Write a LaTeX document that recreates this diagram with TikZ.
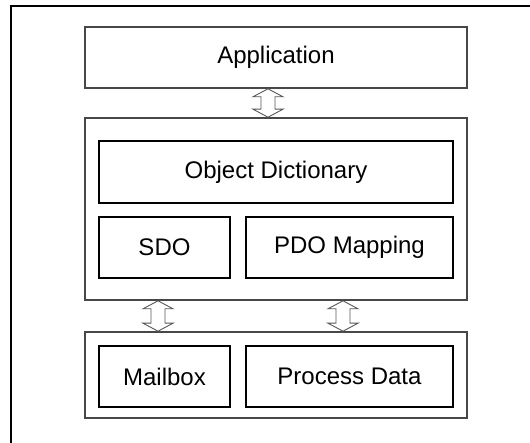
\documentclass[tikz,border=0pt]{standalone}
\usepackage{fontspec}
\setmainfont{Liberation Sans}
\usetikzlibrary{calc}
\newcommand\vdblarrow[2]{%
  \draw[dblarr] (#1) -- ++(15,8) -- ++(-8,0) -- ($(#2)+(7,-8)$) -- ++(8,0) -- (#2)
    -- ++(-15,-8) -- ++(8,0) -- ($(#1)+(-7,8)$) -- ++(-8,0) -- cycle;}
\begin{document}
\begin{tikzpicture}[x=1pt,y=-1pt,
  outerbox/.style={draw=black!72, line width=1.6pt, inner sep=0pt, font=\fontsize{24}{28}\selectfont},
  innerbox/.style={draw=black, line width=1.2pt, inner sep=0pt, font=\fontsize{24}{28}\selectfont},
  dblarr/.style={draw=black!65, line width=0.9pt, fill=white, line join=miter},
  frame/.style={draw=black, line width=2.2pt}]
\useasboundingbox (0,0) rectangle (530,443);
% outer frame (only top and left edges visible)
\coordinate (f0) at (11,6);
\coordinate (f1) at (531,6);
\coordinate (f2) at (11,444);
\draw[frame] (f1) -- (f0) -- (f2);
% boxes
\node[outerbox, minimum width=382, minimum height=61] (app) at (276,57.5) {Application};
\node[outerbox, minimum width=382, minimum height=182] (mid) at (276,209) {};
\node[innerbox, minimum width=354, minimum height=62] (od) at (276,172) {Object Dictionary};
\node[innerbox, minimum width=131, minimum height=61] (sdo) at (164.5,247.5) {SDO};
\node[innerbox, minimum width=207, minimum height=61] (pdo) at (349.5,247.5) {PDO Mapping};
\node[outerbox, minimum width=382, minimum height=86] (bot) at (276,375) {};
\node[innerbox, minimum width=131, minimum height=61] (mail) at (164.5,376.5) {Mailbox};
\node[innerbox, minimum width=207, minimum height=61] (proc) at (349.5,376.5) {Process Data};
% arrow positions
\coordinate (x1) at (268,0);
\coordinate (x2) at (158,0);
\coordinate (x3) at (343,0);
\coordinate (a1t) at (x1 |- app.south);
\coordinate (a1b) at (x1 |- mid.north);
\coordinate (a2t) at (x2 |- mid.south);
\coordinate (a2b) at (x2 |- bot.north);
\coordinate (a3t) at (x3 |- mid.south);
\coordinate (a3b) at (x3 |- bot.north);
\vdblarrow{a1t}{a1b}
\vdblarrow{a2t}{a2b}
\vdblarrow{a3t}{a3b}
\end{tikzpicture}
\end{document}
